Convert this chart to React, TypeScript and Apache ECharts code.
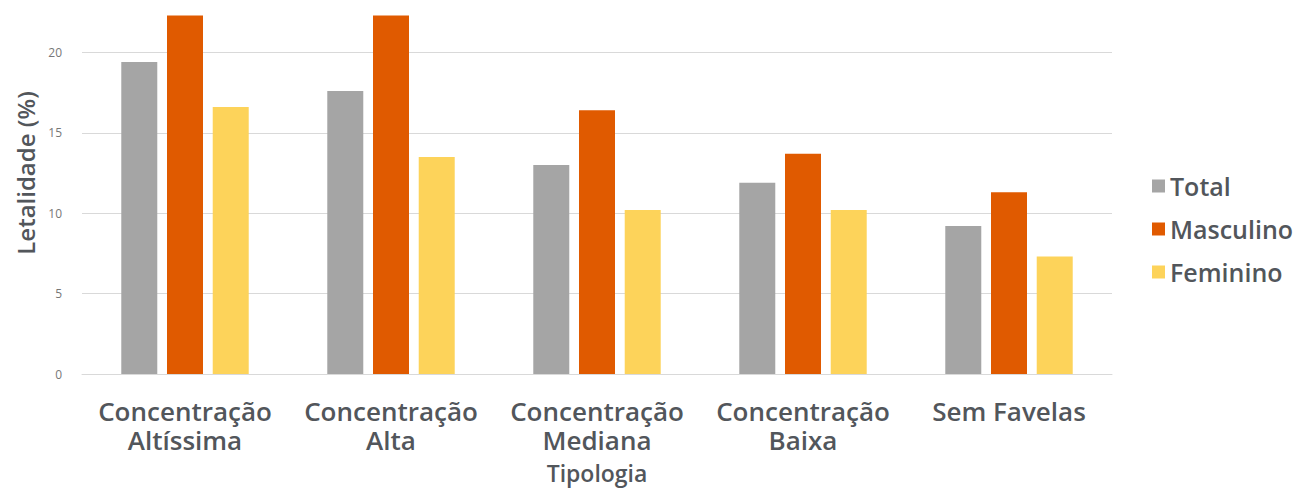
import React, { useEffect, useRef } from "react";
import * as echarts from "echarts";

const categories = [
  "Concentração\nAltíssima",
  "Concentração\nAlta",
  "Concentração\nMediana",
  "Concentração\nBaixa",
  "Sem Favelas",
];
const total = [19.4, 17.6, 13.0, 11.9, 9.2];
const masculino = [22.3, 22.3, 16.4, 13.7, 11.3];
const feminino = [16.6, 13.5, 10.2, 10.2, 7.3];
const yTicks = [0, 5, 10, 15, 20];

const FONT = "'Open Sans', Lato, sans-serif";
const TEXT = "#52565b";

export default function App() {
  const ref = useRef<HTMLDivElement>(null);

  useEffect(() => {
    const chart = echarts.init(ref.current!, null, { renderer: "svg" });
    const bar = (name: string, data: number[], color: string) => ({
      name,
      type: "bar",
      data,
      barWidth: 36,
      barGap: "27%",
      itemStyle: { color },
    });
    chart.setOption({
      animation: false,
      textStyle: { fontFamily: FONT },
      grid: {
        left: 74,
        right: 192,
        top: 8,
        bottom: 114,
        containLabel: false,
        outerBoundsMode: "none",
      },
      legend: {
        orient: "vertical",
        left: 1139,
        top: 203,
        itemWidth: 13,
        itemHeight: 13,
        itemGap: 15,
        icon: "rect",
        textStyle: {
          fontFamily: FONT,
          fontSize: 25,
          fontWeight: 600,
          lineHeight: 28,
          color: TEXT,
        },
        data: ["Total", "Masculino", "Feminino"],
      },
      xAxis: {
        type: "category",
        data: categories,
        name: "Tipologia",
        nameLocation: "middle",
        nameGap: 87,
        nameTextStyle: { fontFamily: FONT, fontSize: 23, fontWeight: 600, color: TEXT },
        axisLine: { lineStyle: { color: "#d9d9d9", width: 1 } },
        axisTick: { show: false },
        axisLabel: {
          interval: 0,
          margin: 22,
          fontFamily: FONT,
          fontSize: 26,
          fontWeight: 600,
          lineHeight: 29,
          color: TEXT,
        },
      },
      yAxis: {
        type: "value",
        min: 0,
        max: 25,
        interval: 5,
        name: "Letalidade (%)",
        nameLocation: "middle",
        nameGap: 45,
        nameTextStyle: { fontFamily: FONT, fontSize: 24, fontWeight: 600, color: TEXT },
        axisLine: { show: false },
        axisTick: { show: false },
        splitLine: { lineStyle: { color: "#d9d9d9", width: 1 } },
        axisLabel: {
          margin: 20,
          fontFamily: FONT,
          fontSize: 12,
          color: "#777777",
          formatter: (v: number) => (yTicks.includes(v) ? String(v) : ""),
        },
      },
      series: [
        bar("Total", total, "#a5a5a5"),
        bar("Masculino", masculino, "#e05a00"),
        bar("Feminino", feminino, "#fdd35a"),
      ],
    });
    return () => chart.dispose();
  }, []);

  return (
    <div
      ref={ref}
      style={{ width: 1296, height: 524, position: "relative", top: -44 }}
    />
  );
}
